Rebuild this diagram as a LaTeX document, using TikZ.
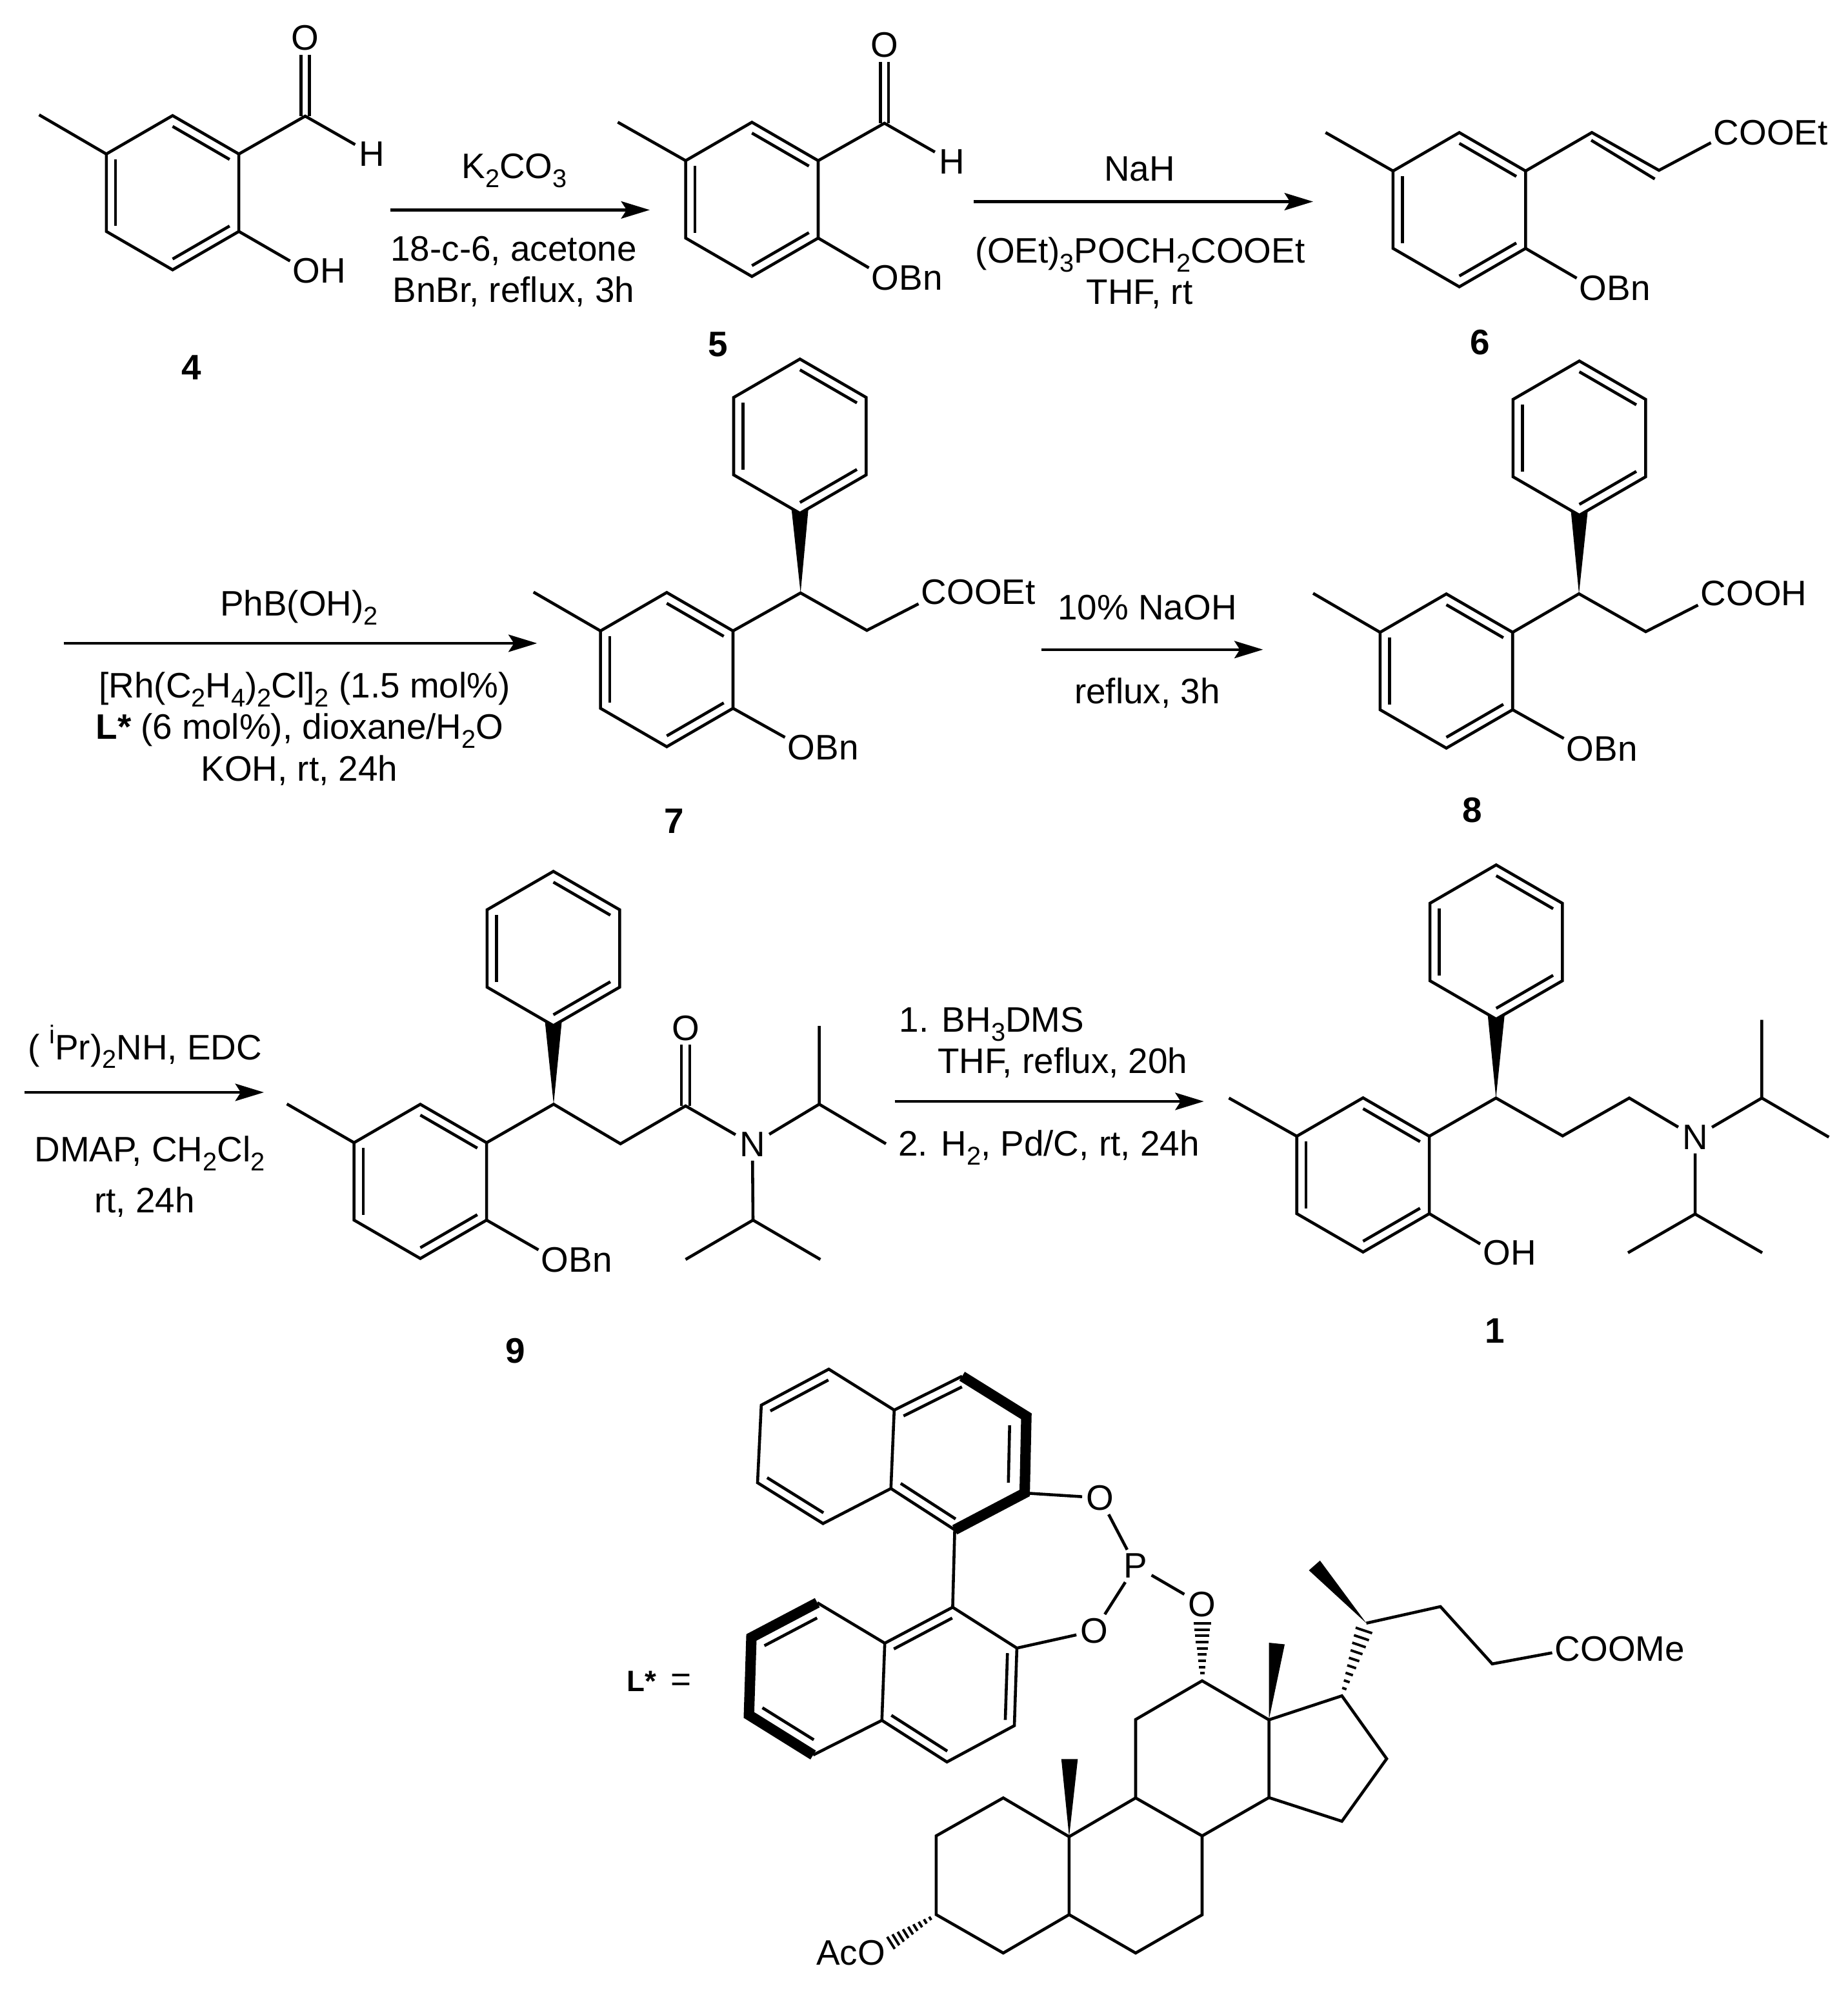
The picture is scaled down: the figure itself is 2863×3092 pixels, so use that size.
\documentclass[tikz,border=0pt]{standalone}
\usepackage{fontspec}
\setmainfont{Liberation Sans}
\usetikzlibrary{calc,arrows.meta}

\newcommand{\low}[1]{\raisebox{-.25em}{\fontsize{11.3pt}{11.3pt}\selectfont #1}}
\newcommand{\upp}[1]{\raisebox{.45em}{\fontsize{11.3pt}{11.3pt}\selectfont #1}}
% inner line of a double bond, pulled towards the ring centre
\newcommand{\inbond}[4][.86]{\draw ($(#2)!#1!(#3)$) -- ($(#2)!#1!(#4)$);}
% six-membered aromatic ring: name, centre x, centre y
\newcommand{\arene}[3]{
    \coordinate (#1c) at (#2,#3);
    \coordinate (#1t) at (#2,#3-119.5);
    \coordinate (#1ur) at (#2+102.7,#3-60);
    \coordinate (#1lr) at (#2+102.7,#3+60);
    \coordinate (#1b) at (#2,#3+119.5);
    \coordinate (#1ll) at (#2-102.7,#3+60);
    \coordinate (#1ul) at (#2-102.7,#3-60);
    \draw (#1t) -- (#1ur) -- (#1lr) -- (#1b) -- (#1ll) -- (#1ul) -- cycle;
    \inbond{#1c}{#1t}{#1ur}
    \inbond{#1c}{#1ul}{#1ll}
    \inbond{#1c}{#1lr}{#1b}
}
% wedge from a stereo centre up to the bottom corner of a phenyl ring
\newcommand{\phwedge}[2]{\fill (#1) -- ([shift={(-13,-6)}]#2) -- (#2) -- ([shift={(13,-6)}]#2) -- cycle;}
% hashed bond: from, to, first t, last t, first width, last width, stripes
\newcommand{\hashbond}[7]{
    \foreach \k in {1,...,#7} {
        \pgfmathsetmacro\hT{#3+(#4-#3)*(\k-1)/(#7-1)}
        \pgfmathsetmacro\hW{(#5+(#6-#5)*(\k-1)/(#7-1))*0.1422}
        \coordinate (hp) at ($(#1)!\hT!(#2)$);
        \draw[line width=1.1pt] ($(hp)!\hW pt!90:(#2)$) -- ($(hp)!\hW pt!-90:(#2)$);
    }
}

\tikzset{
    chemtext/.style={font=\fontsize{15.6pt}{15.6pt}\selectfont},
    cond/.style={chemtext,anchor=base,inner sep=0pt},
    condw/.style={chemtext,anchor=base west,inner sep=0pt},
    atom/.style={chemtext,inner sep=1.14pt},
    group/.style={chemtext,anchor=base west,inner sep=.57pt},
    numlab/.style={cond,font=\fontsize{15.6pt}{15.6pt}\selectfont\bfseries},
    dblbond/.style={double,double distance=2.3pt},
    thickbond/.style={line width=4.6pt,line join=miter},
    rxn/.style={-{Stealth[length=12.6pt,width=7.6pt,inset=2.4pt]}}
}

\begin{document}
\begin{tikzpicture}[x=.01cm,y=-.01cm,line width=1.3pt]
    \useasboundingbox (0,0) rectangle (2863,3092);

    % 4
    \arene{a}{267.5}{298.7}
    \coordinate (me4) at (60.6,178);
    \coordinate (cho4) at (473,180);
    \node[atom] (o4) at (473,59) {O};
    \node[atom] (h4) at (576.5,239) {H};
    \node[group] (oh4) at (449.5,439) {OH};
    \node[numlab] (n4) at (297,589) {4};
    \draw[dblbond] (cho4) -- (o4);
    \draw (aul) -- (me4);
    \draw (aur) -- (cho4) -- (h4);
    \draw (alr) -- ([yshift=-2.3pt]oh4.north west);

    % 5
    \coordinate (ar1s) at (604.6,325.4);
    \coordinate (ar1e) at (1007,325.4);
    \draw[rxn] (ar1s) -- (ar1e);
    \node[cond] (t1a) at (797,277) {K\low{2}CO\low{3}};
    \node[cond] (t1b) at (796,405) {18-c-6, acetone};
    \node[cond] (t1c) at (796,469) {BnBr, reflux, 3h};
    \arene{b}{1165.3}{309}
    \coordinate (me5) at (957.4,189.4);
    \coordinate (cho5) at (1370.7,191);
    \node[atom] (o5) at (1370.7,70) {O};
    \node[atom] (h5) at (1475,250.6) {H};
    \node[group] (obn5) at (1346.5,449.6) {OBn};
    \node[numlab] (n5) at (1112.5,552.5) {5};
    \draw[dblbond] (cho5) -- (o5);
    \draw (bul) -- (me5);
    \draw (bur) -- (cho5) -- (h5);
    \draw (blr) -- ([yshift=-2.3pt]obn5.north west);

    % 6
    \coordinate (ar2s) at (1509,312.5);
    \coordinate (ar2e) at (2035,312.5);
    \draw[rxn] (ar2s) -- (ar2e);
    \node[cond] (t2a) at (1766,280.6) {NaH};
    \node[cond] (t2b) at (1767,408) {(OEt)\low{3}POCH\low{2}COOEt};
    \node[cond] (t2c) at (1766,472) {THF, rt};
    \arene{c}{2261.6}{325}
    \coordinate (me6) at (2054.3,205.4);
    \coordinate (vin1) at (2467,205.4);
    \coordinate (vin2) at (2571,264);
    \node[group] (coo6) at (2651.5,224.5) {COOEt};
    \node[group] (obn6) at (2443.5,465.6) {OBn};
    \node[numlab] (n6) at (2294,549.3) {6};
    \draw (cul) -- (me6);
    \draw (cur) -- (vin1) -- (vin2) -- ([yshift=2.3pt]coo6.south west);
    \draw ([shift={(-1,12)}]vin1) -- ([shift={(-6.5,13.4)}]vin2);
    \draw (clr) -- ([yshift=-2.3pt]obn6.north west);

    % 7
    \coordinate (ar3s) at (98.7,997);
    \coordinate (ar3e) at (832.4,997);
    \draw[rxn] (ar3s) -- (ar3e);
    \node[cond] (t3a) at (463.6,955) {PhB(OH)\low{2}};
    \node[cond] (t3b) at (472,1081.3) {[Rh(C\low{2}H\low{4})\low{2}Cl]\low{2} (1.5 mol\%)};
    \node[cond] (t3c) at (464.5,1145.6) {\textbf{L*} (6 mol\%), dioxane/H\low{2}O};
    \node[cond] (t3d) at (464,1210) {KOH, rt, 24h};
    \arene{d}{1033.3}{1037.8}
    \arene{e}{1239.7}{676}
    \coordinate (me7) at (826.8,917.7);
    \coordinate (st7) at (1240.7,919);
    \coordinate (ch7) at (1343.4,977);
    \node[group] (coo7) at (1423.5,937) {COOEt};
    \node[group] (obn7) at (1216.5,1177.3) {OBn};
    \node[numlab] (n7) at (1044.6,1291.7) {7};
    \phwedge{st7}{eb}
    \draw (dul) -- (me7);
    \draw (dur) -- (st7) -- (ch7) -- ([yshift=1.7pt]coo7.south west);
    \draw (dlr) -- ([yshift=-2.3pt]obn7.north west);

    % 8
    \coordinate (ar4s) at (1614.4,1006.8);
    \coordinate (ar4e) at (1957.4,1006.8);
    \draw[rxn] (ar4s) -- (ar4e);
    \node[cond] (t4a) at (1778,960.5) {10\% NaOH};
    \node[cond] (t4b) at (1778,1090) {reflux, 3h};
    \arene{f}{2241.5}{1040}
    \arene{g}{2447.6}{679}
    \coordinate (me8) at (2035,919.6);
    \coordinate (st8) at (2447,920.3);
    \coordinate (ch8) at (2550.5,979);
    \node[group] (coo8) at (2631.5,939) {COOH};
    \node[group] (obn8) at (2423.5,1179) {OBn};
    \node[numlab] (n8) at (2282,1274) {8};
    \phwedge{st8}{gb}
    \draw (ful) -- (me8);
    \draw (fur) -- (st8) -- (ch8) -- ([yshift=1.7pt]coo8.south west);
    \draw (flr) -- ([yshift=-2.3pt]obn8.north west);

    % 9
    \coordinate (ar5s) at (37.5,1693);
    \coordinate (ar5e) at (409,1693);
    \draw[rxn] (ar5s) -- (ar5e);
    \node[cond] (t5a) at (224.6,1642) {( \upp{i}Pr)\low{2}NH, EDC};
    \node[cond] (t5b) at (232,1800.7) {DMAP, CH\low{2}Cl\low{2}};
    \node[cond] (t5c) at (224,1879) {rt, 24h};
    \arene{h}{651.4}{1831}
    \arene{i}{857.6}{1470}
    \coordinate (me9) at (444.6,1711);
    \coordinate (st9) at (858,1711.4);
    \coordinate (ch9) at (961.6,1772.7);
    \coordinate (co9) at (1062.5,1714);
    \node[atom] (o9) at (1062.5,1593.6) {O};
    \node[atom] (n9a) at (1166,1773.7) {N};
    \coordinate (ip1) at (1269.6,1711.4);
    \coordinate (ip1u) at (1269.6,1590);
    \coordinate (ip1r) at (1373,1772.7);
    \coordinate (ip2) at (1167,1891);
    \coordinate (ip2l) at (1062.5,1952);
    \coordinate (ip2r) at (1271.4,1952);
    \node[group] (obn9) at (834.5,1971.6) {OBn};
    \node[numlab] (n9) at (799,2112.6) {9};
    \phwedge{st9}{ib}
    \draw[dblbond] (co9) -- (o9);
    \draw (hul) -- (me9);
    \draw (hur) -- (st9) -- (ch9) -- (co9) -- (n9a);
    \draw (n9a) -- (ip1) -- (ip1u);
    \draw (ip1) -- (ip1r);
    \draw (n9a) -- (ip2) -- (ip2l);
    \draw (ip2) -- (ip2r);
    \draw (hlr) -- ([yshift=-2.3pt]obn9.north west);

    % 1
    \coordinate (ar6s) at (1386.7,1707);
    \coordinate (ar6e) at (1865.7,1707);
    \draw[rxn] (ar6s) -- (ar6e);
    \node[condw] (t6a) at (1391.5,1599.7) {1. BH\low{3}DMS};
    \node[condw] (t6b) at (1451,1663.5) {THF, reflux, 20h};
    \node[condw] (t6c) at (1390,1791.7) {2. H\low{2}, Pd/C, rt, 24h};
    \arene{j}{2112.4}{1821}
    \arene{k}{2318.7}{1460}
    \coordinate (me1) at (1904.5,1701.8);
    \coordinate (st1) at (2318.4,1701.8);
    \coordinate (ch1a) at (2421.7,1760.5);
    \coordinate (ch1b) at (2525,1701.8);
    \node[atom] (n1a) at (2627,1762.4) {N};
    \coordinate (ip3) at (2730.4,1701.8);
    \coordinate (ip3u) at (2730.4,1580.6);
    \coordinate (ip3r) at (2834.3,1762.4);
    \coordinate (ip4) at (2627,1881.6);
    \coordinate (ip4l) at (2523,1941.6);
    \coordinate (ip4r) at (2731,1941.6);
    \node[group] (oh1) at (2294,1960) {OH};
    \node[numlab] (n1) at (2316.5,2081) {1};
    \phwedge{st1}{kb}
    \draw (jul) -- (me1);
    \draw (jur) -- (st1) -- (ch1a) -- (ch1b) -- (n1a);
    \draw (n1a) -- (ip3) -- (ip3u);
    \draw (ip3) -- (ip3r);
    \draw (n1a) -- (ip4) -- (ip4l);
    \draw (ip4) -- (ip4r);
    \draw (jlr) -- ([yshift=-3pt]oh1.north west);

    % ligand, binaphthyl part
    \node[condw] (lstar) at (969,2621) {{\fontsize{13pt}{13pt}\selectfont\bfseries L*}\hspace{6.3pt}=};
    \coordinate (u1) at (1284.4,2122);
    \coordinate (u2) at (1179.8,2177.8);
    \coordinate (u3) at (1174,2298);
    \coordinate (u4) at (1275.5,2361.3);
    \coordinate (u5) at (1380.7,2307);
    \coordinate (u6) at (1385.8,2185.4);
    \coordinate (u7) at (1491,2133);
    \coordinate (u8) at (1590.6,2195);
    \coordinate (u9) at (1588,2314);
    \coordinate (u10) at (1479.6,2371);
    \coordinate (ucl) at (1280,2242);
    \coordinate (ucr) at (1489,2250.6);
    \coordinate (v1) at (1476.4,2491);
    \coordinate (v2) at (1575.9,2554.3);
    \coordinate (v3) at (1572,2674.5);
    \coordinate (v4) at (1467.5,2730.8);
    \coordinate (v5) at (1366.7,2666.3);
    \coordinate (v6) at (1371.2,2546.7);
    \coordinate (v7) at (1266.6,2484);
    \coordinate (v8) at (1164.5,2537.8);
    \coordinate (v9) at (1160.7,2658);
    \coordinate (v10) at (1260.2,2720);
    \coordinate (vcr) at (1471.6,2610.6);
    \coordinate (vcl) at (1265,2602);
    \node[atom] (o1) at (1704.7,2321.4) {O};
    \node[atom] (p1) at (1760,2427) {P};
    \node[atom] (o2) at (1695.8,2527.7) {O};
    \node[atom] (o3) at (1863,2487) {O};
    \draw (u6) -- (u1) -- (u2) -- (u3) -- (u4) -- (u5) -- (u6) -- (u7);
    \draw (u5) -- (u10) -- (v1);
    \draw[thickbond] (u7) -- (u8) -- (u9) -- (u10);
    \inbond{ucl}{u1}{u2}
    \inbond{ucl}{u3}{u4}
    \inbond{ucr}{u5}{u10}
    \inbond{ucr}{u6}{u7}
    \inbond[.745]{ucr}{u8}{u9}
    \draw (v7) -- (v6) -- (v1) -- (v2) -- (v3) -- (v4) -- (v5) -- (v6);
    \draw (v5) -- (v10);
    \draw[thickbond] (v7) -- (v8) -- (v9) -- (v10);
    \inbond{vcr}{v6}{v1}
    \inbond{vcr}{v2}{v3}
    \inbond{vcr}{v4}{v5}
    \inbond[.8]{vcl}{v8}{v7}
    \inbond[.8]{vcl}{v9}{v10}
    \draw (u9) -- (o1) -- (p1) -- (o2) -- (v2);
    \draw (p1) -- (o3);

    % ligand, steroid part
    \coordinate (c1) at (1554.8,2786.5);
    \coordinate (c2) at (1450.9,2845.3);
    \coordinate (c3) at (1450.9,2967.4);
    \coordinate (c4) at (1554.8,3026.9);
    \coordinate (c5) at (1656.9,2967.4);
    \coordinate (c6) at (1760,3026.9);
    \coordinate (c7) at (1863,2967.7);
    \coordinate (c8) at (1863,2845.4);
    \coordinate (c9) at (1760,2786.5);
    \coordinate (c10) at (1656.9,2846.6);
    \coordinate (c11) at (1760,2665);
    \coordinate (c12) at (1863,2605);
    \coordinate (c13) at (1966.5,2665.5);
    \coordinate (c14) at (1966.5,2786);
    \coordinate (c15) at (2079.6,2822.7);
    \coordinate (c16) at (2149,2725.8);
    \coordinate (c17) at (2079.6,2628.3);
    \coordinate (c20) at (2117.5,2515.7);
    \coordinate (c22) at (2232.3,2490);
    \coordinate (c23) at (2312.6,2578.8);
    \coordinate (oac) at (1373,3016);
    \node[group] (coome) at (2405.5,2574) {COOMe};
    \node[group] (aco) at (1261,3045.8) {AcO};
    \draw (c10) -- (c1) -- (c2) -- (c3) -- (c4) -- (c5) -- (c10) -- (c9);
    \draw (c5) -- (c6) -- (c7) -- (c8) -- (c9) -- (c11) -- (c12) -- (c13) -- (c14) -- (c8);
    \draw (c13) -- (c17) -- (c16) -- (c15) -- (c14);
    \draw (c20) -- (c22) -- (c23) -- ([yshift=4.9pt]coome.south west);
    \fill (c10) -- (1644.8,2726.3) -- (1670.3,2726.3) -- cycle;
    \fill (c13) -- (1966.5,2546) -- (1991,2548.5) -- cycle;
    \fill (c20) -- (2028.5,2433.8) -- (2045.7,2418.7) -- cycle;
    \hashbond{c12}{o3}{.1}{.754}{7}{27}{9}
    \hashbond{c17}{c20}{.1}{.9}{7}{27}{9}
    \hashbond{c3}{oac}{.12}{.9}{6}{22}{9}
\end{tikzpicture}
\end{document}
